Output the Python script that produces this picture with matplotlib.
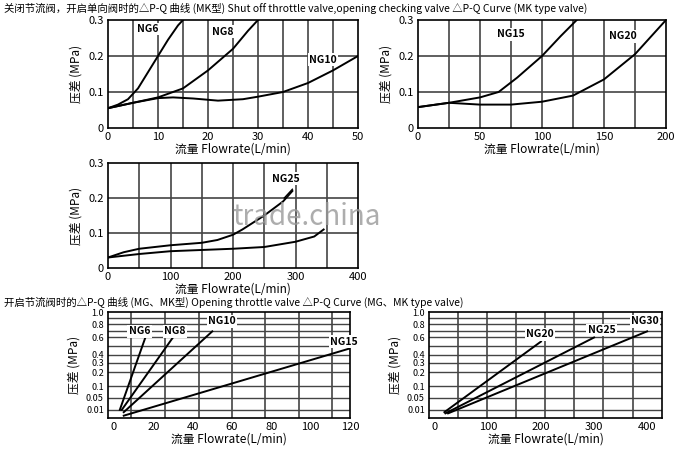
import matplotlib
matplotlib.use("Agg")
import matplotlib.pyplot as plt
import numpy as np

plt.rcParams['font.family'] = ['Noto Sans CJK SC', 'DejaVu Sans']
plt.rcParams['font.size'] = 7.5

# ---- data ----
tl_ng6_x = [0, 2, 4, 6, 8, 10, 12, 14, 15]
tl_ng6_y = [0.055, 0.065, 0.08, 0.11, 0.155, 0.2, 0.245, 0.285, 0.3]
tl_ng8_x = [0, 5, 10, 15, 20, 25, 28, 30]
tl_ng8_y = [0.055, 0.07, 0.085, 0.11, 0.16, 0.22, 0.27, 0.3]
tl_ng10_x = [0, 5, 10, 13, 17, 22, 27, 30, 35, 40, 45, 50]
tl_ng10_y = [0.055, 0.07, 0.083, 0.085, 0.082, 0.076, 0.08, 0.087, 0.1, 0.125, 0.16, 0.2]

tr_ng15_x = [0, 25, 50, 65, 80, 100, 115, 128]
tr_ng15_y = [0.058, 0.07, 0.085, 0.1, 0.14, 0.2, 0.255, 0.3]
tr_ng20_x = [0, 25, 50, 75, 100, 125, 150, 175, 200]
tr_ng20_y = [0.058, 0.07, 0.065, 0.065, 0.073, 0.09, 0.135, 0.205, 0.3]

m_a_x = [0, 25, 50, 100, 150, 175, 200, 215, 250, 280, 295]
m_a_y = [0.03, 0.045, 0.055, 0.065, 0.072, 0.08, 0.095, 0.11, 0.15, 0.19, 0.22]
m_b_x = [0, 50, 100, 200, 250, 300, 330, 345]
m_b_y = [0.03, 0.04, 0.048, 0.055, 0.06, 0.075, 0.09, 0.11]

bl_lines = {"NG6": ([3, 16], [0.01, 0.6]),
            "NG8": ([4, 30], [0.01, 0.6]),
            "NG10": ([5, 50], [0.008, 0.7]),
            "NG15": ([5, 120], [0.005, 0.47])}
br_lines = {"NG20": ([18, 200], [0.008, 0.55]),
            "NG25": ([20, 300], [0.007, 0.6]),
            "NG30": ([25, 400], [0.007, 0.7])}

log_ticks = [0.01, 0.05, 0.1, 0.2, 0.3, 0.4, 0.6, 0.8, 1.0]
log_tick_labels = ["0.01", "0.05", "0.1", "0.2", "0.3", "0.4", "0.6", "0.8", "1.0"]
knots_v = [0.003, 0.01, 0.05, 0.1, 0.2, 0.3, 0.4, 0.5, 0.6, 0.7, 0.8, 0.9, 1.0]
knots_p = [0, 8, 20, 31, 45, 54, 62, 71, 79, 85, 92, 98, 104]

W, H = 676, 450
fig = plt.figure(figsize=(6.76, 4.5), dpi=100)

def ax_px(l, r, t, b):
    return fig.add_axes([l / W, 1 - b / H, (r - l) / W, (b - t) / H])

XL = "流量 Flowrate(L/min)"
YL = "压差 (MPa)"

def style(ax):
    for s in ax.spines.values():
        s.set_linewidth(1.2)
    ax.tick_params(length=0, pad=3, labelsize=8)

def lab(ax, x, y, t):
    ax.text(x, y, t, ha='center', va='center', fontsize=7.5, fontweight='bold',
            bbox=dict(fc='white', ec='none', pad=1), zorder=5)

fig.text(4 / W, 1 - 8 / H, "关闭节流阀，开启单向阀时的△P-Q 曲线 (MK型) Shut off throttle valve,opening checking valve △P-Q Curve (MK type valve)",
         va='center', fontsize=7.5)
fig.text(4 / W, 1 - 302 / H, "开启节流阀时的△P-Q 曲线 (MG、MK型) Opening throttle valve △P-Q Curve (MG、MK type valve)",
         va='center', fontsize=7.5)

def linear_panel(ax, xmax, xstep, vstep):
    ax.set_xlim(0, xmax); ax.set_ylim(0, 0.3)
    ax.set_xticks(np.arange(0, xmax + 1, xstep))
    ax.set_yticks([0, 0.1, 0.2, 0.3]); ax.set_yticklabels(["0", "0.1", "0.2", "0.3"])
    for v in np.arange(vstep, xmax, vstep):
        ax.axvline(v, color='#444', lw=1.2, zorder=1)
    for h in [0.1, 0.2]:
        ax.axhline(h, color='#444', lw=1.2, zorder=1)
    ax.set_xlabel(XL, labelpad=0, fontsize=8.5)
    ax.set_ylabel(YL, fontsize=8.5)
    style(ax)

ax1 = ax_px(108, 358, 20, 128)
linear_panel(ax1, 50, 10, 5)
ax1.plot(tl_ng6_x, tl_ng6_y, 'k', lw=1.4, zorder=3)
ax1.plot(tl_ng8_x, tl_ng8_y, 'k', lw=1.4, zorder=3)
ax1.plot(tl_ng10_x, tl_ng10_y, 'k', lw=1.4, zorder=3)
lab(ax1, 8, 0.275, "NG6"); lab(ax1, 23, 0.268, "NG8"); lab(ax1, 43, 0.19, "NG10")

ax2 = ax_px(418, 666, 20, 128)
linear_panel(ax2, 200, 50, 25)
ax2.plot(tr_ng15_x, tr_ng15_y, 'k', lw=1.4, zorder=3)
ax2.plot(tr_ng20_x, tr_ng20_y, 'k', lw=1.4, zorder=3)
lab(ax2, 75, 0.26, "NG15"); lab(ax2, 165, 0.255, "NG20")

ax3 = ax_px(108, 358, 163, 268)
linear_panel(ax3, 400, 100, 50)
ax3.plot(m_a_x, m_a_y, 'k', lw=1.4, zorder=3)
ax3.plot(m_b_x, m_b_y, 'k', lw=1.4, zorder=3)
ax3.plot([282, 295], [0.2, 0.225], 'k', lw=1.0, zorder=3)
lab(ax3, 285, 0.255, "NG25")
fig.text(232 / W, 1 - 217 / H, "trade.china", fontsize=20, color='#999999', alpha=0.8, va='center')

def fwd(v):
    return np.interp(v, knots_v, knots_p)
def inv(p):
    return np.interp(p, knots_p, knots_v)

def log_panel(ax, xlim, xticks, vlines):
    ax.set_yscale('function', functions=(fwd, inv))
    ax.set_xlim(*xlim); ax.set_ylim(0.003, 1.0)
    ax.set_xticks(xticks)
    ax.set_yticks(log_ticks); ax.set_yticklabels(log_tick_labels)
    ax.minorticks_off()
    for v in vlines:
        ax.axvline(v, color='#444', lw=1.2, zorder=1)
    for h in log_ticks[:-1] + [0.5, 0.7, 0.9]:
        ax.axhline(h, color='#444', lw=1.0, zorder=1)
    ax.set_xlabel(XL, labelpad=0, fontsize=8.5)
    ax.set_ylabel(YL, fontsize=8.5)
    style(ax)
    ax.tick_params(axis='y', labelsize=6.5)

ax4 = ax_px(108, 350, 312, 418)
log_panel(ax4, (-3, 120), [0, 20, 40, 60, 80, 100, 120], [8.6, 26, 43, 60, 77, 94, 111])
for k, (xs, ys) in bl_lines.items():
    ax4.plot(xs, ys, 'k', lw=1.4, zorder=3)
lab(ax4, 13, 0.7, "NG6"); lab(ax4, 31, 0.7, "NG8"); lab(ax4, 55, 0.85, "NG10"); lab(ax4, 117, 0.55, "NG15")

ax5 = ax_px(429, 662, 312, 418)
log_panel(ax5, (-11, 428), [0, 100, 200, 300, 400], [43, 98, 153, 208, 262, 317, 373])
for k, (xs, ys) in br_lines.items():
    ax5.plot(xs, ys, 'k', lw=1.4, zorder=3)
lab(ax5, 198, 0.65, "NG20"); lab(ax5, 314, 0.72, "NG25"); lab(ax5, 396, 0.85, "NG30")

fig.savefig("out.png", dpi=100)
